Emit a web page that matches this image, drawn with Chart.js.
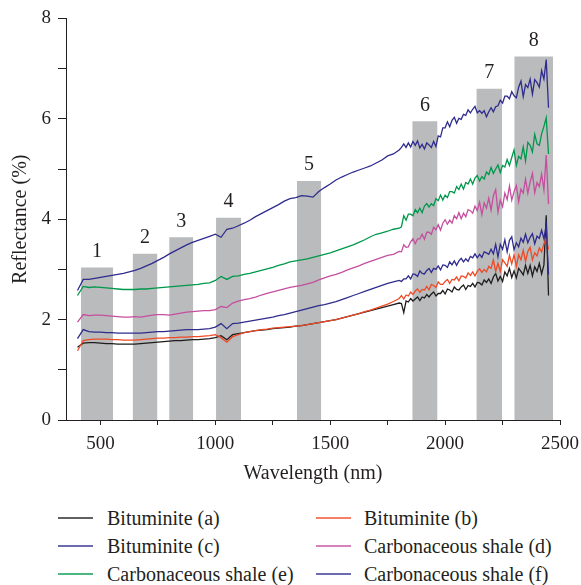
<!DOCTYPE html>
<html>
<head>
<meta charset="utf-8">
<script src="https://cdn.jsdelivr.net/npm/chart.js@4.4.1/dist/chart.umd.min.js"></script>
<style>
  html, body { margin: 0; padding: 0; background: #ffffff; }
  #wrap { position: relative; width: 581px; height: 585px; overflow: hidden; }
  #chart { position: absolute; left: 0; top: 0; }
  .lg-item { position: absolute; height: 24px; font: 20px "Liberation Serif", "Times New Roman", serif; color: #231f20; white-space: nowrap; }
  .lg-line { position: absolute; top: 11px; height: 2px; width: 35px; }
  .lg-text { position: absolute; top: 0; line-height: 24px; }
</style>
</head>
<body>
<div id="wrap">
  <canvas id="chart" width="581" height="490"></canvas>
  <div id="legend"></div>
</div>
<script>
// Wavelength sampling (nm): 25 nm steps up to 1800 nm, 10 nm steps beyond
const wavelengths = [
  400, 425, 450, 475, 500, 525, 550, 575, 600, 625,
  650, 675, 700, 725, 750, 775, 800, 825, 850, 875,
  900, 925, 950, 975, 1000, 1025, 1050, 1075, 1100, 1125,
  1150, 1175, 1200, 1225, 1250, 1275, 1300, 1325, 1350, 1375,
  1400, 1425, 1450, 1475, 1500, 1525, 1550, 1575, 1600, 1625,
  1650, 1675, 1700, 1725, 1750, 1775, 1800,
  1810, 1820, 1830, 1840, 1850, 1860, 1870, 1880, 1890, 1900,
  1910, 1920, 1930, 1940, 1950, 1960, 1970, 1980, 1990, 2000,
  2010, 2020, 2030, 2040, 2050, 2060, 2070, 2080, 2090, 2100,
  2110, 2120, 2130, 2140, 2150, 2160, 2170, 2180, 2190, 2200,
  2210, 2220, 2230, 2240, 2250, 2260, 2270, 2280, 2290, 2300,
  2310, 2320, 2330, 2340, 2350, 2360, 2370, 2380, 2390, 2400,
  2410, 2420, 2430, 2440, 2450
];

// Reflectance (%) of each sample
const bituminiteA = [
  1.45, 1.53, 1.54, 1.54, 1.53, 1.52, 1.52, 1.51, 1.51, 1.51,
  1.51, 1.52, 1.53, 1.54, 1.55, 1.56, 1.57, 1.58, 1.58, 1.59,
  1.60, 1.60, 1.61, 1.62, 1.64, 1.68, 1.60, 1.70, 1.72, 1.74,
  1.76, 1.78, 1.79, 1.80, 1.82, 1.83, 1.84, 1.85, 1.87, 1.88,
  1.90, 1.92, 1.94, 1.96, 1.98, 2.00, 2.03, 2.06, 2.09, 2.12,
  2.15, 2.18, 2.21, 2.24, 2.27, 2.30, 2.33,
  2.32, 2.14, 2.37, 2.35, 2.42, 2.37, 2.41, 2.45, 2.38, 2.45,
  2.43, 2.50, 2.45, 2.51, 2.55, 2.47, 2.52, 2.52, 2.58, 2.51,
  2.61, 2.59, 2.55, 2.65, 2.60, 2.59, 2.65, 2.69, 2.60, 2.68,
  2.66, 2.72, 2.65, 2.74, 2.73, 2.69, 2.79, 2.74, 2.81, 2.72,
  2.85, 2.92, 2.77, 2.86, 2.76, 2.95, 2.87, 3.02, 2.84, 2.97,
  2.83, 3.02, 2.96, 2.89, 3.08, 2.92, 3.08, 2.87, 3.05, 2.96,
  3.12, 2.91, 3.09, 4.08, 2.48
];
const bituminiteB = [
  1.38, 1.58, 1.60, 1.61, 1.61, 1.61, 1.60, 1.60, 1.59, 1.59,
  1.59, 1.60, 1.61, 1.62, 1.63, 1.63, 1.64, 1.64, 1.65, 1.65,
  1.66, 1.66, 1.67, 1.68, 1.70, 1.64, 1.55, 1.66, 1.70, 1.74,
  1.76, 1.78, 1.80, 1.81, 1.83, 1.84, 1.85, 1.86, 1.87, 1.88,
  1.90, 1.92, 1.94, 1.96, 1.98, 2.00, 2.03, 2.06, 2.09, 2.12,
  2.16, 2.19, 2.23, 2.27, 2.31, 2.36, 2.42,
  2.48, 2.41, 2.49, 2.47, 2.55, 2.50, 2.57, 2.61, 2.54, 2.60,
  2.59, 2.66, 2.59, 2.70, 2.68, 2.64, 2.75, 2.70, 2.70, 2.76,
  2.80, 2.72, 2.80, 2.79, 2.85, 2.77, 2.87, 2.86, 2.83, 2.93,
  2.88, 2.95, 2.87, 2.96, 3.01, 2.94, 3.00, 2.95, 3.06, 3.02,
  3.19, 2.96, 3.12, 2.96, 3.19, 3.13, 3.06, 3.28, 3.11, 3.29,
  3.06, 3.29, 3.19, 3.38, 3.16, 3.36, 3.44, 3.19, 3.33, 3.27,
  3.43, 3.35, 3.51, 3.62, 3.40
];
const bituminiteC = [
  1.62, 1.80, 1.76, 1.75, 1.75, 1.74, 1.74, 1.73, 1.73, 1.73,
  1.73, 1.73, 1.74, 1.75, 1.76, 1.76, 1.77, 1.78, 1.79, 1.80,
  1.80, 1.80, 1.81, 1.82, 1.85, 1.92, 1.82, 1.92, 1.93, 1.95,
  1.97, 1.99, 2.01, 2.03, 2.05, 2.08, 2.10, 2.13, 2.16, 2.19,
  2.22, 2.25, 2.28, 2.30, 2.33, 2.36, 2.40, 2.44, 2.48, 2.52,
  2.56, 2.60, 2.64, 2.68, 2.72, 2.75, 2.78,
  2.76, 2.81, 2.81, 2.87, 2.81, 2.91, 2.90, 2.86, 2.97, 2.92,
  2.91, 2.98, 3.02, 2.94, 3.02, 3.00, 3.07, 2.99, 3.09, 3.08,
  3.04, 3.15, 3.09, 3.17, 3.08, 3.17, 3.22, 3.15, 3.21, 3.16,
  3.26, 3.23, 3.31, 3.23, 3.30, 3.24, 3.35, 3.33, 3.30, 3.40,
  3.31, 3.50, 3.25, 3.50, 3.40, 3.59, 3.35, 3.58, 3.65, 3.39,
  3.53, 3.45, 3.62, 3.54, 3.70, 3.53, 3.64, 3.71, 3.51, 3.66,
  3.62, 3.78, 3.61, 3.88, 2.90
];
const shaleD = [
  1.95, 2.10, 2.08, 2.09, 2.09, 2.08, 2.07, 2.06, 2.05, 2.05,
  2.06, 2.05, 2.07, 2.09, 2.10, 2.10, 2.09, 2.11, 2.13, 2.15,
  2.16, 2.17, 2.18, 2.18, 2.20, 2.26, 2.24, 2.33, 2.37, 2.40,
  2.42, 2.45, 2.49, 2.52, 2.55, 2.58, 2.61, 2.64, 2.66, 2.68,
  2.71, 2.74, 2.79, 2.83, 2.87, 2.90, 2.94, 2.99, 3.03, 3.07,
  3.12, 3.16, 3.20, 3.24, 3.28, 3.30, 3.36,
  3.35, 3.49, 3.44, 3.45, 3.55, 3.61, 3.51, 3.61, 3.61, 3.70,
  3.60, 3.74, 3.74, 3.70, 3.84, 3.79, 3.89, 3.78, 3.92, 3.99,
  3.90, 3.98, 3.92, 4.07, 4.01, 4.13, 4.01, 4.12, 4.05, 4.19,
  4.17, 4.12, 4.26, 4.17, 4.34, 4.09, 4.33, 4.22, 4.42, 4.18,
  4.47, 4.59, 4.14, 4.38, 4.25, 4.52, 4.39, 4.66, 4.38, 4.55,
  4.67, 4.35, 4.60, 4.52, 4.80, 4.52, 4.74, 4.91, 4.53, 4.73,
  4.65, 4.90, 4.58, 5.28, 4.30
];
const shaleE = [
  2.48, 2.66, 2.64, 2.65, 2.64, 2.63, 2.62, 2.61, 2.60, 2.60,
  2.60, 2.61, 2.61, 2.62, 2.63, 2.64, 2.65, 2.66, 2.67, 2.68,
  2.69, 2.70, 2.72, 2.73, 2.78, 2.86, 2.80, 2.86, 2.87, 2.90,
  2.92, 2.95, 2.98, 3.01, 3.04, 3.08, 3.11, 3.15, 3.17, 3.19,
  3.21, 3.24, 3.27, 3.30, 3.33, 3.37, 3.41, 3.45, 3.49, 3.54,
  3.59, 3.65, 3.70, 3.73, 3.76, 3.80, 3.82,
  3.85, 4.07, 3.98, 4.10, 4.10, 4.07, 4.19, 4.13, 4.22, 4.13,
  4.26, 4.31, 4.24, 4.31, 4.27, 4.41, 4.37, 4.48, 4.38, 4.48,
  4.43, 4.55, 4.55, 4.52, 4.65, 4.59, 4.70, 4.60, 4.73, 4.70,
  4.80, 4.70, 4.82, 4.87, 4.76, 4.85, 4.80, 4.94, 4.89, 5.03,
  4.91, 5.00, 5.08, 4.93, 5.07, 5.04, 5.19, 5.07, 5.23, 5.38,
  5.07, 5.25, 5.20, 5.44, 5.16, 5.53, 5.47, 5.34, 5.69, 5.50,
  5.47, 5.70, 5.85, 6.02, 5.30
];
const shaleF = [
  2.58, 2.80, 2.80, 2.82, 2.84, 2.86, 2.88, 2.90, 2.92, 2.95,
  2.98, 3.02, 3.07, 3.12, 3.18, 3.24, 3.31, 3.37, 3.43, 3.49,
  3.54, 3.58, 3.62, 3.66, 3.70, 3.64, 3.80, 3.82, 3.87, 3.92,
  3.98, 4.05, 4.11, 4.17, 4.23, 4.29, 4.36, 4.41, 4.43, 4.47,
  4.46, 4.44, 4.55, 4.63, 4.70, 4.78, 4.84, 4.89, 4.94, 4.98,
  5.02, 5.06, 5.12, 5.18, 5.26, 5.30, 5.38,
  5.43, 5.50, 5.43, 5.52, 5.44, 5.55, 5.47, 5.56, 5.42, 5.49,
  5.40, 5.52, 5.48, 5.43, 5.55, 5.45, 5.66, 5.64, 5.82, 5.82,
  5.94, 5.84, 5.97, 6.03, 5.91, 6.01, 5.99, 6.09, 6.07, 6.18,
  6.12, 6.19, 6.25, 6.12, 6.16, 6.11, 6.16, 6.04, 6.14, 6.22,
  6.14, 6.24, 6.26, 6.37, 6.31, 6.45, 6.45, 6.40, 6.54, 6.46,
  6.42, 6.63, 6.75, 6.44, 6.68, 6.62, 6.79, 6.49, 6.78, 6.72,
  6.63, 6.96, 6.79, 7.18, 6.22
];

const seriesNames = [
  'Bituminite (a)', 'Bituminite (b)', 'Bituminite (c)',
  'Carbonaceous shale (d)', 'Carbonaceous shale (e)', 'Carbonaceous shale (f)'
];
const seriesValues = [bituminiteA, bituminiteB, bituminiteC, shaleD, shaleE, shaleF];
const seriesColors = ['#1f1c1d', '#ef4a26', '#2f2c8e', '#c54f9f', '#00984b', '#2f2c8e'];

// Characteristic absorption bands: start/end wavelength (nm) and band height (%)
const bandNames  = ['1', '2', '3', '4', '5', '6', '7', '8'];
const bandStart  = [415, 640, 799, 1003, 1355, 1857, 2136, 2301];
const bandEnd    = [555, 748, 904, 1112, 1461, 1967, 2248, 2470];
const bandHeight = [3.04, 3.31, 3.64, 4.03, 4.76, 5.95, 6.60, 7.24];

// Axis ticks
const xTicks = [500, 750, 1000, 1250, 1500, 1750, 2000, 2250, 2500];
const xLabelled = [500, 1000, 1500, 2000, 2500];
const yTicks = [0, 1, 2, 3, 4, 5, 6, 7, 8];
const yLabelled = [0, 2, 4, 6, 8];

const SERIF = '"Liberation Serif", "Times New Roman", serif';
const INK = '#231f20';
const BAND_GREY = '#b9bbbc';

const bandDatasets = bandNames.map((name, i) => ({
  type: 'line',
  label: 'band ' + name,
  bandName: name,
  data: [{ x: bandStart[i], y: bandHeight[i] }, { x: bandEnd[i], y: bandHeight[i] }],
  fill: 'origin',
  backgroundColor: BAND_GREY,
  borderWidth: 0,
  borderColor: 'rgba(0,0,0,0)',
  pointRadius: 0,
  order: 10
}));

const spectrumDatasets = seriesNames.map((name, i) => ({
  type: 'line',
  label: name,
  isSpectrum: true,
  data: wavelengths.map((w, k) => ({ x: w, y: seriesValues[i][k] })),
  borderColor: seriesColors[i],
  backgroundColor: seriesColors[i],
  borderWidth: 1.3,
  pointRadius: 0,
  fill: false,
  tension: 0,
  order: 6 - i
}));

// Numbers above each band
const bandLabels = {
  id: 'bandLabels',
  afterDatasetsDraw(chart) {
    const ctx = chart.ctx;
    ctx.save();
    ctx.font = '20px ' + SERIF;
    ctx.fillStyle = INK;
    ctx.textAlign = 'center';
    ctx.textBaseline = 'middle';
    chart.data.datasets.forEach((ds, i) => {
      if (!ds.bandName) return;
      const pts = chart.getDatasetMeta(i).data;
      const cx = (pts[0].x + pts[1].x) / 2;
      ctx.fillText(ds.bandName, cx, pts[0].y - 16);
    });
    ctx.restore();
  }
};

const chart = new Chart(document.getElementById('chart'), {
  type: 'line',
  data: { datasets: [...spectrumDatasets, ...bandDatasets] },
  options: {
    responsive: false,
    animation: false,
    layout: { padding: { top: 18, right: 21, left: 0, bottom: 0 } },
    plugins: {
      legend: { display: false },
      tooltip: { enabled: false }
    },
    scales: {
      x: {
        type: 'linear',
        min: 350,
        max: 2500,
        afterFit(scale) { scale.height = 70; },
        afterBuildTicks(scale) { scale.ticks = xTicks.map(v => ({ value: v })); },
        ticks: {
          autoSkip: false,
          maxRotation: 0,
          padding: 2,
          color: INK,
          font: { family: SERIF, size: 19, lineHeight: 1.8 },
          callback: v => (xLabelled.includes(v) ? String(v) : '')
        },
        grid: { drawOnChartArea: false, drawTicks: true, tickLength: 5, color: INK, lineWidth: 1 },
        border: { display: true, color: INK, width: 1 },
        title: {
          display: true,
          text: 'Wavelength (nm)',
          color: INK,
          font: { family: SERIF, size: 20 },
          padding: { top: 0, bottom: 4 }
        }
      },
      y: {
        type: 'linear',
        min: 0,
        max: 8,
        afterFit(scale) { scale.width = 66; },
        afterBuildTicks(scale) { scale.ticks = yTicks.map(v => ({ value: v })); },
        ticks: {
          autoSkip: false,
          padding: 7,
          color: INK,
          font: { family: SERIF, size: 19 },
          callback: v => (yLabelled.includes(v) ? String(v) : '')
        },
        grid: { drawOnChartArea: false, drawTicks: true, tickLength: 8, color: INK, lineWidth: 1 },
        border: { display: true, color: INK, width: 1 },
        title: {
          display: true,
          text: 'Reflectance (%)',
          color: INK,
          font: { family: SERIF, size: 20 },
          padding: { top: 9, bottom: 0 }
        }
      }
    }
  },
  plugins: [bandLabels]
});

// Two-column legend beneath the chart, built from the spectrum datasets
const legendBox = document.getElementById('legend');
const colX = [{ line: 58, text: 107 }, { line: 316, text: 364 }];
const rowY = [506, 534, 562];
chart.data.datasets.filter(ds => ds.isSpectrum).forEach((ds, i) => {
  const col = colX[i % 2];
  const item = document.createElement('div');
  item.className = 'lg-item';
  item.style.left = '0px';
  item.style.top = rowY[Math.floor(i / 2)] + 'px';
  const line = document.createElement('div');
  line.className = 'lg-line';
  line.style.left = col.line + 'px';
  line.style.background = ds.borderColor;
  line.style.opacity = '0.7';
  const text = document.createElement('span');
  text.className = 'lg-text';
  text.style.left = col.text + 'px';
  text.textContent = ds.label;
  item.appendChild(line);
  item.appendChild(text);
  legendBox.appendChild(item);
});
</script>
</body>
</html>
